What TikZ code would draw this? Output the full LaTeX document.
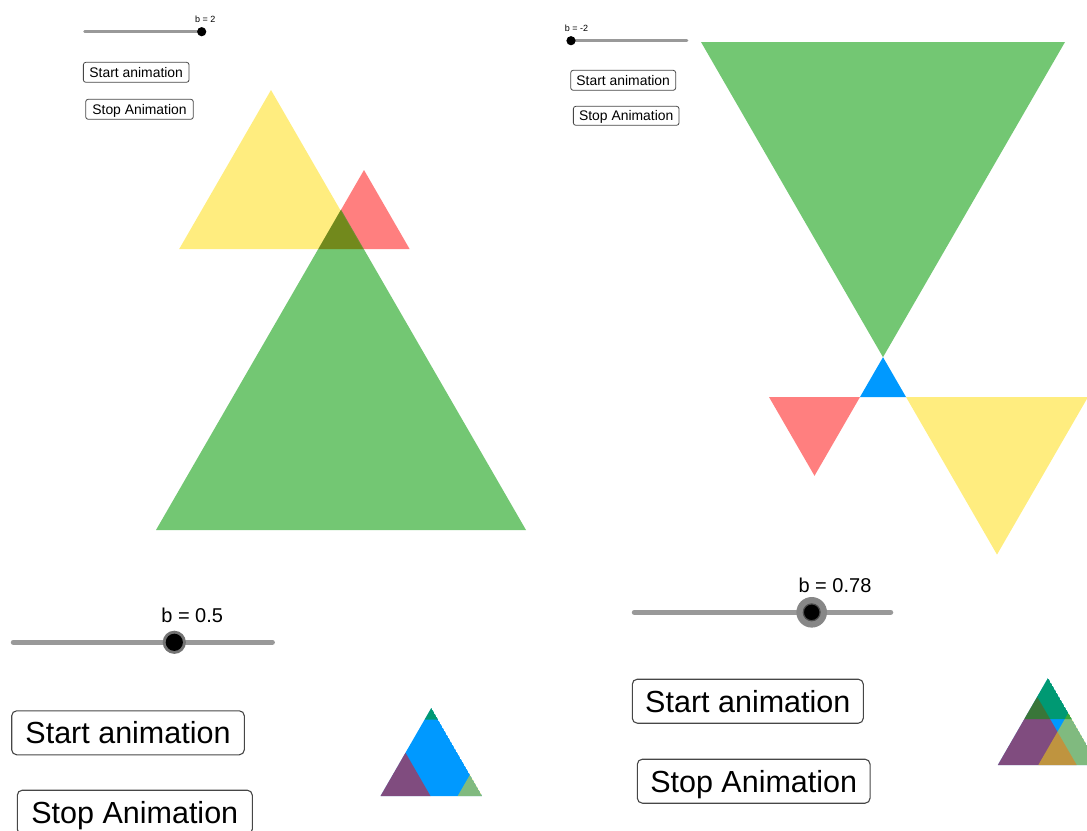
\documentclass[tikz,border=0pt]{standalone}
\usepackage{fontspec}
\setmainfont{Liberation Sans}
\definecolor{gblue}{RGB}{0,153,255}
\definecolor{ggreen}{RGB}{0,153,0}
\definecolor{gred}{RGB}{255,0,0}
\definecolor{gyellow}{RGB}{255,220,0}
\definecolor{track}{RGB}{153,153,153}
\definecolor{edge}{RGB}{70,70,70}
\tikzset{
  gtri/.style={fill=ggreen,fill opacity=.55},
  rtri/.style={fill=gred,fill opacity=.5},
  ytri/.style={fill=gyellow,fill opacity=.5},
  btri/.style={fill=gblue},
  bigbtn/.style={draw=edge,line width=1.1pt,rounded corners=5pt,inner sep=0pt,text depth=0pt,minimum height=44pt,font=\fontsize{30.5}{32}\selectfont},
  smallbtn/.style={draw=edge,line width=.8pt,rounded corners=2.5pt,inner sep=0pt,text depth=0pt,minimum height=20pt,font=\fontsize{13.9}{15}\selectfont},
  biglab/.style={font=\fontsize{20}{22}\selectfont},
  smalllab/.style={font=\fontsize{9}{10}\selectfont}
}
\begin{document}
\begin{tikzpicture}[x=1pt,y=-1pt,line cap=round,line join=round]
\useasboundingbox (0,0) rectangle (1087,830);
\clip (0,0) rectangle (1087,830);
% left panel, b = 0.5
\fill[ytri] (179.2,249)--(362.8,249)--(271,90)--cycle;
\fill[rtri] (318.4,249)--(409.6,249)--(364,170)--cycle;
\fill[gtri] (156,530)--(526,530)--(341,209.6)--cycle;
% right panel, b = -2
\fill[gtri] (701,42)--(1065,42)--(883,357.2)--cycle;
\fill[btri] (860,397)--(906,397)--(883,357.2)--cycle;
\fill[rtri] (769,397)--(860,397)--(814.5,475.8)--cycle;
\fill[ytri] (906,397)--(1088,397)--(997,554.6)--cycle;
% small icons
\begin{scope}
\clip (380.5,796)--(482.1,796)--(431.3,708)--cycle;
\fill[btri] (380.5,796)--(482.1,796)--(431.3,708)--cycle;
\fill[rtri] (379,796)--(430.5,796)--(405.5,752.7)--cycle;
\fill[ytri] (457.7,796)--(507.7,796)--(482.7,752.7)--cycle;
\fill[gtri] (424.7,719.5)--(437.9,719.5)--(431.3,708)--cycle;
\end{scope}
\begin{scope}
\clip (997.8,765)--(1098.2,765)--(1048,678)--cycle;
\fill[btri] (997.8,765)--(1098.2,765)--(1048,678)--cycle;
\fill[rtri] (996.8,765)--(1076.7,765)--(1037.3,697)--cycle;
\fill[ytri] (1038.3,765)--(1117,765)--(1077.6,697)--cycle;
\fill[gtri] (1024.3,719)--(1071.7,719)--(1048,678)--cycle;
\end{scope}
% sliders
\draw[track,line width=2.5pt] (84.5,31.7)--(201.7,31.7);
\fill (201.7,31.7) circle[radius=4.6];
\node[smalllab] (labA) at (205.3,19.5) {b = 2};
\draw[track,line width=2.5pt] (571,40.7)--(687,40.7);
\fill (571,40.7) circle[radius=4.6];
\node[smalllab] (labB) at (576.5,28.3) {b = -2};
\draw[track,line width=5.5pt] (13.5,642.3)--(272.2,642.3);
\fill[black!55] (174.3,642.3) circle[radius=11.6];
\fill (174.3,642.3) circle[radius=8.6];
\node[biglab] (labC) at (192.2,615.5) {b = 0.5};
\draw[track,line width=5.5pt] (634.5,612.3)--(890.5,612.3);
\fill[black!47] (811.7,612.3) circle[radius=15.3];
\fill[draw=black!70,line width=1.2pt] (811.7,612.3) circle[radius=8.4];
\node[biglab] (labD) at (835,585.7) {b = 0.78};
% buttons
\node[smallbtn,minimum width=105.7pt] (startA) at (136.2,72.3) {Start animation};
\node[smallbtn,minimum width=107.6pt] (stopA) at (139.5,109.3) {Stop Animation};
\node[smallbtn,minimum width=105pt] (startB) at (623.2,80.3) {Start animation};
\node[smallbtn,minimum width=105.7pt,minimum height=19pt] (stopB) at (626.2,115.8) {Stop Animation};
\node[bigbtn,minimum width=232.6pt] (startC) at (128,732.8) {Start animation};
\node[bigbtn,minimum width=235pt] (stopC) at (134.8,812.2) {Stop Animation};
\node[bigbtn,minimum width=231pt] (startD) at (747.8,701.2) {Start animation};
\node[bigbtn,minimum width=232.7pt] (stopD) at (753.7,781.2) {Stop Animation};
\end{tikzpicture}
\end{document}
